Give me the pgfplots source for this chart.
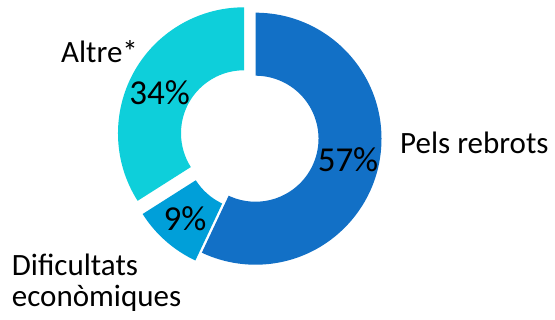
\documentclass[border=0pt]{standalone}
\usepackage{pgfplots}
\pgfplotsset{compat=1.18}
\usepackage{pgfplotstable}
\usepackage{fontspec}
\setmainfont{Carlito}
\definecolor{cPels}{HTML}{1270C6}
\definecolor{cDif}{HTML}{009FD9}
\definecolor{cAltre}{HTML}{0ECFDA}
\pgfplotstableread{
value
57
9
34
}\datatable
\pgfplotstablegetelem{0}{value}\of\datatable \let\va\pgfplotsretval
\pgfplotstablegetelem{1}{value}\of\datatable \let\vb\pgfplotsretval
\pgfplotstablegetelem{2}{value}\of\datatable \let\vc\pgfplotsretval
\pgfmathsetmacro\aA{90}
\pgfmathsetmacro\aB{90-3.6*\va}
\pgfmathsetmacro\aC{\aB-3.6*\vb}
\pgfmathsetmacro\aD{\aC-3.6*\vc}
\newcommand\slice[5]{%
\fill[#1] ([shift={(#4:126bp)}]axis cs:#2,#3) arc[start angle=#4, end angle=#5, radius=126bp]
 -- ([shift={(#5:63bp)}]axis cs:#2,#3) arc[start angle=#5, end angle=#4, radius=63bp] -- cycle;}
\newcommand\lab{\fontsize{31bp}{32bp}\selectfont}
\newcommand\pct{\fontsize{35bp}{36bp}\selectfont}
\begin{document}
\begin{tikzpicture}
\begin{axis}[scale only axis, width=555bp, height=320bp,
  xmin=0, xmax=555, ymin=-320, ymax=0, hide axis, clip=false]
\path (axis cs:0,0) rectangle (axis cs:555,-320);
\slice{cPels}{255.5}{-138.7}{\aA}{\aB}
\slice{cDif}{249}{-146.5}{\aB}{\aC}
\slice{cAltre}{244}{-133.3}{\aC}{\aD}
\node[anchor=base, inner sep=0] at (axis cs:348,-171.7) {\pct\va\%};
\node[anchor=base, inner sep=0] at (axis cs:185,-230) {\pct\vb\%};
\node[anchor=base, inner sep=0] at (axis cs:159.7,-104) {\pct\vc\%};
\node[anchor=base west, inner sep=0] at (axis cs:400,-153.3) {\lab Pels rebrots};
\node[anchor=base west, inner sep=0] at (axis cs:61,-62.7) {\lab Altre*};
\node[anchor=base west, inner sep=0] at (axis cs:11.7,-275) {\lab Dificultats};
\node[anchor=base west, inner sep=0] at (axis cs:11.7,-306.7) {\lab econòmiques};
\end{axis}
\end{tikzpicture}
\end{document}
